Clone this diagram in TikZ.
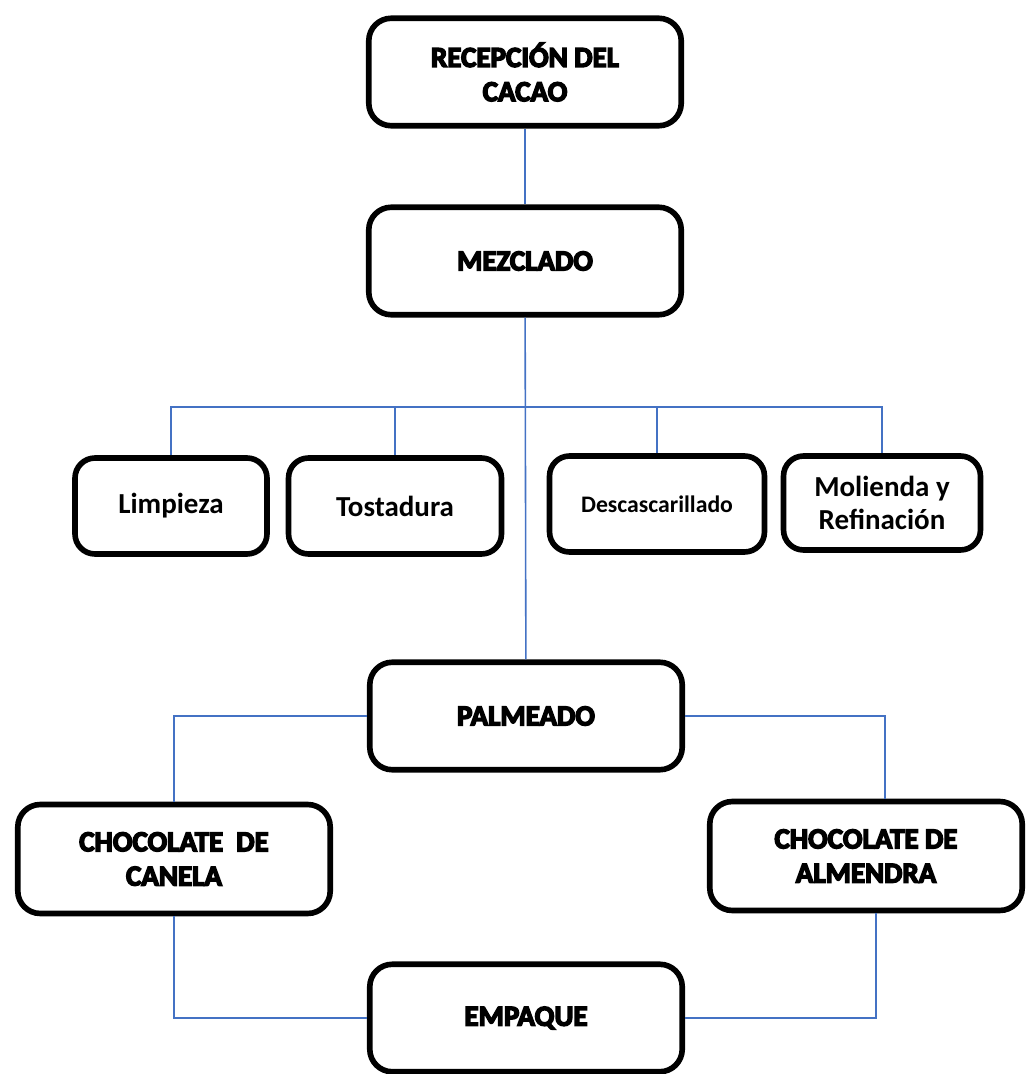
\documentclass[tikz,border=0pt]{standalone}
\usepackage{fontspec}
\setmainfont{Carlito}
\newfontfamily\heavyfont[BoldFeatures={FakeBold=5}]{Carlito}
\usetikzlibrary{calc}
\definecolor{lineblue}{RGB}{68,114,196}
\begin{document}
\begin{tikzpicture}[x=0.02cm, y=-0.02cm]
  % Styles
  \tikzstyle{mainbox} = [rectangle, draw=black, line width=3.2pt, fill=white, rounded corners=0.45cm,
                         align=center, minimum width=6.25cm, minimum height=2.15cm,
                         font=\heavyfont\bfseries\fontsize{16.5}{19.5}\selectfont]
  \tikzstyle{subbox} = [rectangle, draw=black, line width=3.2pt, fill=white, rounded corners=0.4cm,
                        align=center, minimum height=1.92cm, font=\bfseries\fontsize{16.5}{19}\selectfont]
  \tikzstyle{link} = [draw=lineblue, line width=0.9pt]
  \useasboundingbox (0,0) rectangle (1026,1074);

  % Nodes
  \node[mainbox] (recepcion) at (525,72) {RECEPCIÓN DEL\\CACAO};
  \node[mainbox] (mezclado) at (525,261) {MEZCLADO};
  \node[subbox, minimum width=3.84cm] (limpieza) at (171,506) {Limpieza};
  \node[subbox, minimum width=4.26cm] (tostadura) at (395,506) {Tostadura};
  \node[subbox, minimum width=4.3cm, font=\bfseries\fontsize{13.5}{16}\selectfont] (descas) at (657,504) {Descascarillado};
  \node[subbox, minimum width=3.94cm, minimum height=1.88cm] (molienda) at (882,503) {Molienda y\\Refinación};
  \node[mainbox] (palmeado) at (526,716) {PALMEADO};
  \node[mainbox, minimum height=2.18cm] (canela) at (174,859) {CHOCOLATE~ DE\\CANELA};
  \node[mainbox, minimum height=2.18cm] (almendra) at (866,856) {CHOCOLATE DE\\ALMENDRA};
  \node[mainbox] (empaque) at (526,1018) {EMPAQUE};
  \coordinate (bar) at (525,407);

  % Lines
  \draw[link] (recepcion) -- (mezclado);
  \draw[link] (mezclado) -- (palmeado);
  \draw[link] (limpieza.north) |- (bar) -| (molienda.north);
  \draw[link] (tostadura.north) |- (bar);
  \draw[link] (descas.north) |- (bar);
  \draw[link] (palmeado.west) -| (canela.north);
  \draw[link] (palmeado.east) -| ($(almendra.north)+(19,0)$);
  \draw[link] (canela.south) |- (empaque.west);
  \draw[link] ($(almendra.south)+(10,0)$) |- (empaque.east);
\end{tikzpicture}
\end{document}
